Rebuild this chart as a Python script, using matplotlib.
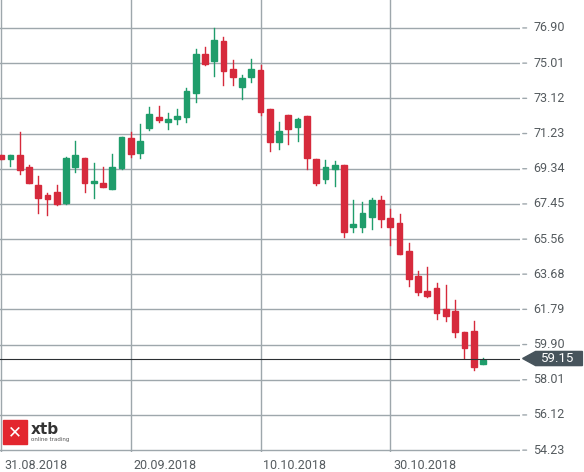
import matplotlib.pyplot as plt
from matplotlib.patches import Rectangle, Polygon

opens  = [70.08, 69.87, 70.08, 69.44, 68.47, 67.93, 68.09, 67.50, 69.44, 69.92,
          68.58, 68.58, 68.25, 69.38, 70.99, 70.19, 71.53, 72.12, 71.85, 72.01,
          72.12, 73.41, 75.50, 75.13, 76.20, 74.70, 73.73, 74.27, 74.64, 72.55,
          70.78, 72.23, 71.58, 72.17, 69.87, 68.79, 69.33, 69.54, 66.21, 66.21,
          66.75, 67.66, 66.70, 66.43, 64.92, 63.58, 62.78, 62.94, 61.81, 61.70,
          60.58, 60.63, 58.86]
highs  = [70.08, 70.08, 71.32, 69.54, 68.95, 68.04, 68.47, 69.97, 70.83, 69.92,
          69.65, 69.44, 70.13, 71.05, 71.32, 71.74, 72.66, 72.71, 72.34, 72.55,
          73.68, 75.77, 75.88, 76.90, 76.42, 75.18, 74.38, 75.24, 74.91, 72.55,
          71.85, 72.23, 72.07, 72.17, 69.87, 69.81, 69.76, 69.54, 67.66, 67.56,
          67.77, 67.88, 67.18, 66.91, 65.35, 63.85, 64.07, 63.21, 63.10, 62.29,
          60.58, 61.17, 59.18]
lows   = [69.87, 69.49, 69.06, 68.58, 66.97, 66.86, 67.40, 67.45, 69.17, 68.09,
          67.77, 68.36, 68.25, 69.33, 69.97, 69.92, 71.42, 71.85, 71.48, 71.74,
          71.85, 72.93, 74.91, 74.32, 73.84, 73.84, 73.09, 74.00, 72.23, 70.29,
          70.40, 70.67, 70.83, 69.33, 68.47, 68.58, 68.42, 65.68, 65.95, 65.95,
          66.11, 66.21, 65.25, 64.76, 63.05, 62.56, 62.46, 61.27, 61.17, 60.31,
          59.18, 58.53, 58.86]
closes = [69.87, 70.08, 69.27, 68.58, 67.77, 67.72, 67.45, 69.92, 70.08, 68.58,
          68.68, 68.36, 69.44, 71.05, 70.13, 70.83, 72.28, 71.96, 72.01, 72.17,
          73.52, 75.50, 74.97, 76.26, 74.59, 74.27, 74.21, 74.70, 72.39, 70.78,
          71.37, 71.48, 72.01, 69.92, 68.58, 69.44, 69.54, 65.95, 66.37, 66.97,
          67.66, 66.64, 66.21, 64.76, 63.42, 62.72, 62.51, 61.60, 61.43, 60.58,
          59.72, 58.70, 59.07]
date_idx = [0, 14, 28, 42]
date_labels = ["31.08.2018", "20.09.2018", "10.10.2018", "30.10.2018"]
price_ticks = [54.23, 56.12, 58.01, 59.90, 61.79, 63.68, 65.56, 67.45, 69.34, 71.23, 73.12, 75.01, 76.90]
last_price = 59.15

GREEN = "#1f9d6b"
RED = "#d62a3c"
GRID = "#9ea7ac"

fig = plt.figure(figsize=(5.84, 4.72), dpi=100)
ax = fig.add_axes([0, 20 / 472, 520 / 584, 452 / 472])
ax.set_xlim(-0.12, 56.0)
ax.set_ylim(54.13, 78.40)
for s in ax.spines.values():
    s.set_visible(False)
ax.set_xticks([])
ax.set_yticks([])

for p in price_ticks:
    ax.axhline(p, color=GRID, lw=1, zorder=0)
for i in date_idx:
    ax.axvline(i, color=GRID, lw=1, zorder=0)

w = 0.62
for i, (o, h, l, c) in enumerate(zip(opens, highs, lows, closes)):
    col = GREEN if c >= o else RED
    ax.plot([i, i], [l, h], color=col, lw=1, zorder=2)
    ax.add_patch(Rectangle((i - w / 2, min(o, c)), w, max(abs(c - o), 0.12),
                           color=col, zorder=3))

ax.axhline(last_price, color="#2b2f33", lw=0.8, zorder=4)

# right price scale
for p in price_ticks:
    ax.annotate("", xy=(1.0, p), xycoords=("axes fraction", "data"),
                xytext=(1.018, p), textcoords=("axes fraction", "data"),
                arrowprops=dict(arrowstyle="-", color=GRID, lw=1), annotation_clip=False)
    ax.text(1.025, p, f"{p:.2f}", transform=ax.get_yaxis_transform(),
            va="center", ha="left", fontsize=9, color="#555b5f", family="Roboto")

# last price tag
ax.add_patch(Polygon([(1.005, last_price), (1.03, last_price + 0.38), (1.12, last_price + 0.38),
                      (1.12, last_price - 0.38), (1.03, last_price - 0.38)],
                     closed=True, transform=ax.get_yaxis_transform(), color="#47545c",
                     clip_on=False, zorder=5))
ax.text(1.04, last_price, f"{last_price:.2f}", transform=ax.get_yaxis_transform(),
        va="center", ha="left", fontsize=9.5, color="white", family="Roboto", zorder=6)

# date labels
for i, lab in zip(date_idx, date_labels):
    ax.annotate(lab, xy=(i, 0), xycoords=("data", "axes fraction"), xytext=(2, -5),
                textcoords="offset points", va="top", ha="left", fontsize=9,
                color="#555b5f", family="Roboto")

# logo
fig.patches.append(Rectangle((3 / 584, 28 / 472), 24 / 584, 24 / 472,
                             transform=fig.transFigure, color="#e3262e"))
fig.text(15 / 584, 40 / 472, "✕", color="white", fontsize=12, ha="center", va="center",
         fontweight="bold")
fig.text(31 / 584, 43 / 472, "xtb", fontsize=11, fontweight="bold", color="#333", va="center")
fig.text(31 / 584, 32 / 472, "online trading", fontsize=4, color="#555", va="center")

fig.savefig("out.png", dpi=100)
